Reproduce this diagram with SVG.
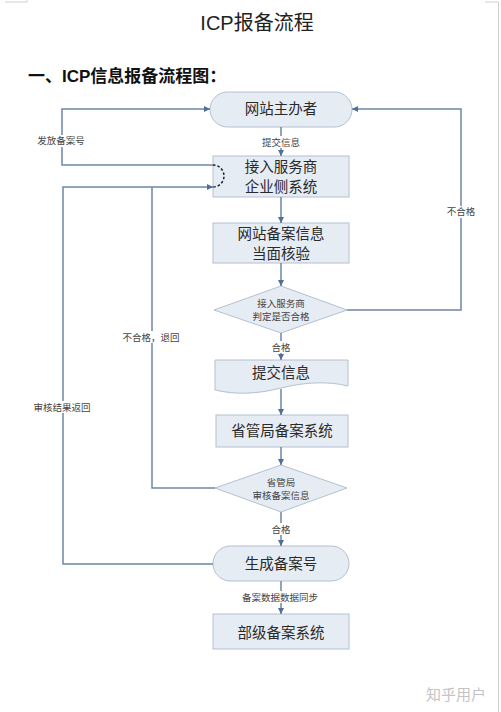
<svg xmlns="http://www.w3.org/2000/svg" width="501" height="712" viewBox="0 0 501 712">
<style>
.node{fill:#e6ecf4;stroke:#b4c0d0;stroke-width:1}
.nt{font-family:"Liberation Sans","Noto Sans CJK SC",sans-serif;font-size:14.5px;fill:#2a2a2a;text-anchor:middle}
.st{font-family:"Liberation Sans","Noto Sans CJK SC",sans-serif;font-size:9.5px;fill:#444;text-anchor:middle}
.conn{fill:none;stroke:#6e86a6;stroke-width:1.5}
.lbg{fill:#fff}
</style>
<defs>
<marker id="arr" viewBox="0 0 10 10" refX="10" refY="5" markerWidth="6" markerHeight="6" orient="auto" markerUnits="userSpaceOnUse">
<path d="M0,0 L10,5 L0,10 Z" fill="#4f6f96"/>
</marker>
</defs>
<rect x="0" y="0" width="501" height="712" fill="#fff"/>
<g id="page-marks" stroke="#cfcfcf" stroke-width="1" fill="none">
<path d="M5,2 H27 V0"/>
<path d="M485,2 H498.5 V712"/>
</g>
<text x="257" y="30" font-family="Liberation Sans,'Noto Sans CJK SC',sans-serif" font-size="20" fill="#222" text-anchor="middle">ICP报备流程</text>
<text x="28" y="82" font-family="Liberation Sans,'Noto Sans CJK SC',sans-serif" font-size="17" font-weight="bold" fill="#111">一、ICP信息报备流程图：</text>

<g id="n-host">
<rect class="node" x="210" y="92" width="142" height="35" rx="17.5"/>
<text class="nt" x="281" y="114">网站主办者</text>
</g>
<g id="n-isp">
<rect class="node" x="213" y="156" width="136" height="41"/>
<text class="nt" x="281" y="172">接入服务商</text>
<text class="nt" x="281" y="192">企业侧系统</text>
</g>
<g id="n-verify">
<rect class="node" x="213" y="223" width="136" height="40"/>
<text class="nt" x="281" y="239">网站备案信息</text>
<text class="nt" x="281" y="259">当面核验</text>
</g>
<g id="n-judge">
<polygon class="node" points="281,286 347,310 281,333 214,310"/>
<text class="st" x="281" y="307">接入服务商</text>
<text class="st" x="281" y="320">判定是否合格</text>
</g>
<g id="n-submit">
<path class="node" d="M215,360 H348 V386 C328,381 305,382 281,388 C258,394 236,395 215,390 Z"/>
<text class="nt" x="281" y="378">提交信息</text>
</g>
<g id="n-prov">
<rect class="node" x="216" y="415" width="132" height="32"/>
<text class="nt" x="282" y="436">省管局备案系统</text>
</g>
<g id="n-review">
<polygon class="node" points="281,465 347,488 281,512 215,488"/>
<text class="st" x="281" y="485.5">省管局</text>
<text class="st" x="281" y="498.5">审核备案信息</text>
</g>
<g id="n-gen">
<rect class="node" x="213" y="546" width="136" height="35" rx="17.5"/>
<text class="nt" x="281" y="569">生成备案号</text>
</g>
<g id="n-ministry">
<rect class="node" x="213" y="614" width="136" height="35"/>
<text class="nt" x="281" y="638">部级备案系统</text>
</g>

<g id="connectors">
<path class="conn" d="M281,127 V156" marker-end="url(#arr)"/>
<path class="conn" d="M281,197 V223" marker-end="url(#arr)"/>
<path class="conn" d="M281,263 V286" marker-end="url(#arr)"/>
<path class="conn" d="M281,333 V360" marker-end="url(#arr)"/>
<path class="conn" d="M281,389 V415" marker-end="url(#arr)"/>
<path class="conn" d="M281,447 V465" marker-end="url(#arr)"/>
<path class="conn" d="M281,512 V546" marker-end="url(#arr)"/>
<path class="conn" d="M281,581 V614" marker-end="url(#arr)"/>
<path class="conn" d="M347,310 H461 V109 H352" marker-end="url(#arr)"/>
<path class="conn" d="M213,165 H62 V109 H210" marker-end="url(#arr)"/>
<path class="conn" d="M213,564 H63 V187 H213" marker-end="url(#arr)"/>
<path class="conn" d="M215,488 H152 V187"/>
<path d="M213,165 A11,11 0 0 1 213,187" fill="none" stroke="#222" stroke-width="1.5" stroke-dasharray="2.5,2"/>
<rect class="lbg" x="258" y="136" width="46" height="12"/>
<text class="st" x="281" y="145.5">提交信息</text>
<rect class="lbg" x="444" y="206" width="34" height="12"/>
<text class="st" x="461" y="215">不合格</text>
<rect class="lbg" x="268" y="341" width="26" height="12"/>
<text class="st" x="281" y="351">合格</text>
<rect class="lbg" x="35" y="135" width="52" height="12"/>
<text class="st" x="61" y="144">发放备案号</text>
<rect class="lbg" x="120" y="331" width="62" height="12"/>
<text class="st" x="151" y="341">不合格，退回</text>
<rect class="lbg" x="33" y="401" width="60" height="12"/>
<text class="st" x="62" y="410.5">审核结果返回</text>
<rect class="lbg" x="268" y="523" width="26" height="12"/>
<text class="st" x="281" y="533">合格</text>
<rect class="lbg" x="241" y="591" width="80" height="12"/>
<text class="st" x="280" y="601">备案数据数据同步</text>
</g>
<text x="456" y="700" font-family="'Noto Sans CJK SC',sans-serif" font-size="15" fill="#c4c4c4" text-anchor="middle">知乎用户</text>
</svg>
